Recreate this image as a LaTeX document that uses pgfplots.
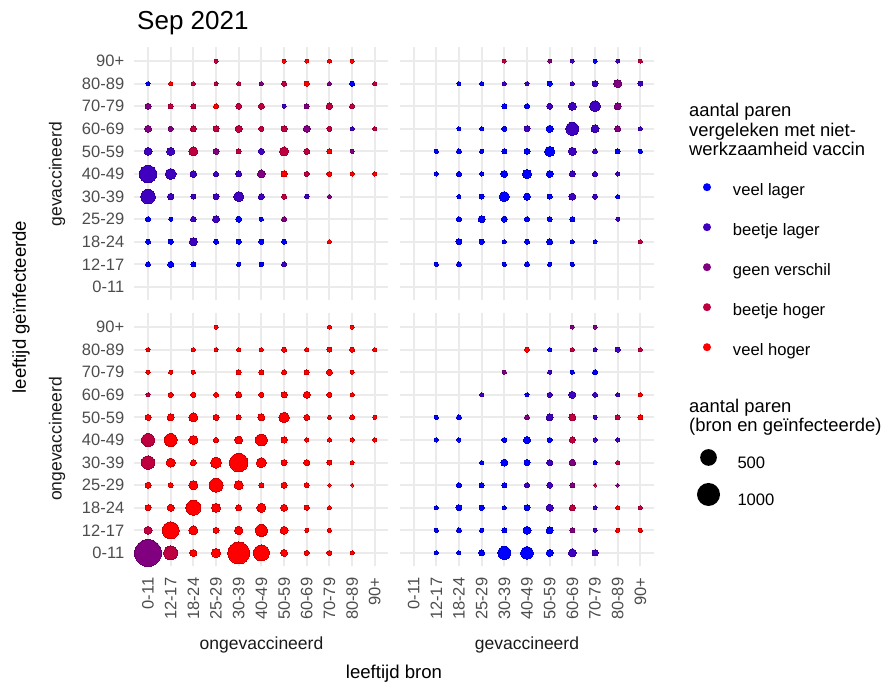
\documentclass[border=0pt]{standalone}
\usepackage{fontspec}
\setmainfont{Liberation Sans}
\usepackage{pgfplots}
\pgfplotsset{compat=1.18}
\usepackage{pgfplotstable}
\definecolor{c0}{RGB}{0,0,255}
\definecolor{c1}{RGB}{64,0,191}
\definecolor{c2}{RGB}{128,0,128}
\definecolor{c3}{RGB}{191,0,64}
\definecolor{c4}{RGB}{255,0,0}
\definecolor{gridgray}{RGB}{235,235,235}
\definecolor{tickgray}{RGB}{77,77,77}
\definecolor{stripgray}{RGB}{26,26,26}
\newcommand{\fs}[1]{\fontsize{#1}{#1}\selectfont}

% x = leeftijd bron (0=0-11 ... 10=90+), y = leeftijd geinfecteerde, n = aantal paren, c = klasse (0 veel lager ... 4 veel hoger)
\pgfplotstableread{
x y n c
3 10 14 3
6 10 14 4
7 10 14 4
8 10 14 4
9 10 14 4
0 9 14 0
1 9 14 4
2 9 14 3
3 9 14 3
4 9 14 3
5 9 14 2
6 9 27 3
7 9 27 4
8 9 14 2
9 9 27 0
10 9 14 3
0 8 44 2
1 8 27 3
2 8 27 3
3 8 27 4
4 8 44 3
5 8 44 3
6 8 14 1
7 8 27 2
8 8 55 3
9 8 27 3
0 7 65 2
1 7 27 2
2 7 44 3
3 7 44 3
4 7 65 3
5 7 27 3
6 7 44 3
7 7 65 2
8 7 27 3
9 7 14 1
10 7 14 3
0 6 91 1
1 6 91 1
2 6 122 3
3 6 44 2
4 6 27 3
5 6 44 1
6 6 122 3
7 6 44 3
8 6 27 4
9 6 14 2
0 5 540 1
1 5 195 1
2 5 55 1
3 5 27 1
4 5 44 1
5 5 91 2
6 5 44 4
7 5 27 3
8 5 27 4
9 5 14 4
10 5 14 4
0 4 370 1
1 4 55 1
2 4 27 1
3 4 44 1
4 4 156 1
5 4 44 1
6 4 27 3
7 4 20 1
8 4 14 2
0 3 27 0
1 3 14 0
2 3 35 1
3 3 65 1
4 3 44 0
5 3 14 0
6 3 27 2
0 2 27 0
1 2 27 0
2 2 91 1
3 2 27 0
4 2 27 0
5 2 27 0
6 2 27 0
8 2 14 4
0 1 27 0
1 1 44 0
2 1 27 0
4 1 14 0
5 1 20 0
6 1 27 1
}\TL

\pgfplotstableread{
x y n c
4 10 14 3
6 10 14 2
7 10 14 1
8 10 14 0
9 10 14 1
10 10 14 3
2 9 14 0
3 9 14 0
4 9 14 1
5 9 14 1
6 9 27 0
7 9 14 1
8 9 44 1
9 9 91 2
10 9 27 1
4 8 27 0
5 8 27 0
6 8 44 1
7 8 91 1
8 8 195 1
9 8 65 2
2 7 14 0
3 7 14 0
4 7 27 0
5 7 44 1
6 7 65 0
7 7 286 1
8 7 91 1
9 7 44 2
10 7 14 1
1 6 14 0
2 6 27 0
3 6 14 0
4 6 27 0
5 6 44 0
6 6 156 0
7 6 91 1
8 6 27 1
9 6 27 0
10 6 14 0
1 5 14 0
2 5 27 0
3 5 14 0
4 5 65 0
5 5 122 0
6 5 65 0
7 5 44 1
8 5 27 1
9 5 14 1
2 4 14 0
3 4 27 0
4 4 156 0
5 4 65 0
6 4 27 0
7 4 65 1
8 4 27 1
9 4 14 0
2 3 27 0
3 3 65 0
4 3 44 0
5 3 27 0
6 3 27 0
7 3 27 0
9 3 14 1
2 2 44 0
3 2 27 0
4 2 14 0
5 2 27 0
6 2 44 0
7 2 14 0
8 2 14 0
10 2 14 3
1 1 14 0
2 1 27 0
4 1 14 0
5 1 27 0
6 1 14 0
7 1 14 0
}\TR

\pgfplotstableread{
x y n c
3 10 14 4
8 10 14 4
9 10 14 4
0 9 14 4
2 9 14 4
3 9 14 4
4 9 14 4
5 9 14 4
6 9 27 4
7 9 14 4
8 9 27 4
9 9 27 4
10 9 14 4
0 8 14 4
1 8 14 4
2 8 14 4
4 8 27 4
5 8 27 4
6 8 27 4
7 8 27 4
8 8 44 4
9 8 14 4
0 7 14 3
1 7 27 4
2 7 27 4
3 7 27 4
4 7 44 4
5 7 27 4
6 7 44 4
7 7 65 4
8 7 27 4
9 7 14 4
0 6 44 4
1 6 65 4
2 6 122 4
3 6 44 4
4 6 27 4
5 6 65 4
6 6 175 4
7 6 44 4
8 6 14 4
9 6 27 4
10 6 14 4
0 5 286 3
1 5 286 4
2 5 122 4
3 5 27 4
4 5 91 4
5 5 238 4
6 5 44 4
7 5 14 4
8 5 14 4
9 5 14 4
10 5 14 4
0 4 310 3
1 4 122 4
2 4 44 4
3 4 195 4
4 4 625 4
5 4 156 4
6 4 44 4
7 4 44 4
8 4 27 4
9 4 14 4
0 3 44 4
1 3 27 4
2 3 122 4
3 3 338 4
4 3 122 4
5 3 27 4
6 3 44 4
7 3 27 4
8 3 10 4
9 3 10 4
0 2 44 4
1 2 65 4
2 2 394 4
3 2 122 4
4 2 44 4
5 2 122 4
6 2 65 4
7 2 27 4
8 2 14 4
0 1 91 3
1 1 520 4
2 1 122 4
3 1 44 4
4 1 105 4
5 1 238 4
6 1 91 4
7 1 14 4
8 1 14 4
0 0 1400 2
1 0 338 3
2 0 65 4
3 0 122 4
4 0 909 4
5 0 455 4
6 0 65 4
7 0 27 4
8 0 27 4
9 0 14 4
}\BL

\pgfplotstableread{
x y n c
7 10 14 2
8 10 14 2
5 9 27 4
6 9 14 0
7 9 14 3
8 9 14 1
9 9 27 1
10 9 14 3
4 8 14 2
6 8 14 1
7 8 14 0
8 8 27 0
3 7 14 1
5 7 14 0
6 7 27 1
7 7 65 1
8 7 27 1
9 7 14 1
10 7 14 4
1 6 14 0
2 6 27 0
5 6 27 2
6 6 65 1
7 6 65 3
8 6 14 1
9 6 27 3
10 6 27 4
1 5 14 0
2 5 14 0
4 5 27 0
5 5 65 0
6 5 27 0
7 5 44 3
8 5 14 1
9 5 14 1
3 4 14 0
4 4 65 0
5 4 44 0
6 4 44 1
7 4 55 2
8 4 14 0
9 4 14 3
2 3 27 0
3 3 27 0
4 3 27 0
5 3 27 1
6 3 44 1
7 3 27 2
8 3 10 3
9 3 10 2
1 2 14 0
2 2 44 0
3 2 27 0
4 2 14 0
5 2 44 0
6 2 65 1
7 2 44 3
8 2 14 1
9 2 14 4
10 2 14 3
1 1 14 0
2 1 27 0
3 1 14 0
4 1 27 0
5 1 91 0
6 1 65 0
7 1 27 2
8 1 14 1
9 1 14 4
10 1 14 4
1 0 14 0
2 0 14 0
3 0 44 0
4 0 286 0
5 0 262 0
6 0 65 0
7 0 91 1
8 0 44 1
}\BR

\pgfplotsset{
  panel/.style={
    scale only axis, width=254pt, height=253pt,
    xmin=-0.6, xmax=10.6, ymin=-0.6, ymax=10.6,
    xtick={0,...,10}, ytick={0,...,10},
    xticklabels={}, yticklabels={},
    axis line style={draw=none}, major tick length=0pt,
    tick style={draw=none},
    xmajorgrids, ymajorgrids,
    major grid style={line width=1.9pt, gridgray},
    colormap={vacc}{rgb255=(0,0,255) rgb255=(64,0,191) rgb255=(128,0,128) rgb255=(191,0,64) rgb255=(255,0,0)},
    point meta min=0, point meta max=4,
    ticklabel style={font=\fs{16.5}, text=tickgray, inner sep=0pt},
  },
  agey/.style={
    yticklabels={0-11,12-17,18-24,25-29,30-39,40-49,50-59,60-69,70-79,80-89,90+},
    yticklabel style={xshift=-10pt, anchor=east},
  },
  agex/.style={
    xticklabels={0-11,12-17,18-24,25-29,30-39,40-49,50-59,60-69,70-79,80-89,90+},
    xticklabel style={yshift=-11pt, rotate=90, anchor=east},
  },
  bubbles/.style={
    scatter, only marks, mark=*, point meta=\thisrow{c},
    visualization depends on={0.75+10.75*sqrt(\thisrow{n}/1000) \as \perpointmarksize},
    scatter/@pre marker code/.append style={/tikz/mark size=\perpointmarksize},
    mark options={line width=0pt}, forget plot,
  },
  dotleg/.style 2 args={legend image code/.code={\path[draw=none,fill=none] (0pt,-5pt) rectangle (34pt,12pt); \fill[#1, draw=none] (8pt,4.5pt) circle (#2);}},
  sizeleg/.style={legend image code/.code={\path[draw=none,fill=none] (0pt,-5pt) rectangle (37pt,20pt); \fill[black, draw=none] (8pt,7.5pt) circle (#1);}},
}

\begin{document}
\begin{tikzpicture}
\useasboundingbox (0pt,0pt) rectangle (888pt,690pt);

% top-left: gevaccineerd geinfecteerde, ongevaccineerde bron
\begin{axis}[panel, agey, at={(134.4pt,389.5pt)}, anchor=south west,
  legend style={draw=none, fill=none, at={(2.2228,0.4775)}, anchor=north west,
    inner sep=0pt, outer sep=0pt, row sep=20pt, column sep=0pt,
    nodes={inner sep=0pt, font=\fs{16.6}, text height=12pt, text depth=4pt}},
  legend cell align=left]
\addplot[bubbles] table {\TL};
\addlegendimage{dotleg={c0}{4pt}}\addlegendentry{veel lager}
\addlegendimage{dotleg={c1}{4pt}}\addlegendentry{beetje lager}
\addlegendimage{dotleg={c2}{4pt}}\addlegendentry{geen verschil}
\addlegendimage{dotleg={c3}{4pt}}\addlegendentry{beetje hoger}
\addlegendimage{dotleg={c4}{4pt}}\addlegendentry{veel hoger}
\end{axis}

% top-right
\begin{axis}[panel, at={(400pt,389.5pt)}, anchor=south west]
\addplot[bubbles] table {\TR};
\end{axis}

% bottom-left
\begin{axis}[panel, agey, agex, at={(134.4pt,123.5pt)}, anchor=south west]
\addplot[bubbles] table {\BL};
\end{axis}

% bottom-right
\begin{axis}[panel, agex, at={(400pt,123.5pt)}, anchor=south west,
  legend style={draw=none, fill=none, at={(1.1693,0.4803)}, anchor=north west,
    inner sep=0pt, outer sep=0pt, row sep=9pt, column sep=0pt,
    nodes={inner sep=0pt, font=\fs{16.6}, text height=12pt, text depth=4pt}},
  legend cell align=left]
\addplot[bubbles] table {\BR};
\addlegendimage{sizeleg=8.35pt}\addlegendentry{500}
\addlegendimage{sizeleg=11.5pt}\addlegendentry{1000}
\end{axis}

% texts
\node[anchor=base west, font=\fs{26}, inner sep=0pt] at (137pt,660pt) {Sep 2021};
\node[rotate=90, font=\fs{18.6}, inner sep=0pt] at (21pt,383pt) {leeftijd geïnfecteerde};
\node[rotate=90, font=\fs{17.5}, text=stripgray, inner sep=0pt] at (57pt,515.7pt) {gevaccineerd};
\node[rotate=90, font=\fs{17.5}, text=stripgray, inner sep=0pt] at (57pt,251pt) {ongevaccineerd};
\node[anchor=base, font=\fs{17.5}, text=stripgray, inner sep=0pt] at (261.5pt,40pt) {ongevaccineerd};
\node[anchor=base, font=\fs{17.5}, text=stripgray, inner sep=0pt] at (527pt,40pt) {gevaccineerd};
\node[anchor=base, font=\fs{18.6}, inner sep=0pt] at (394pt,11pt) {leeftijd bron};
\node[anchor=base west, font=\fs{18.4}, inner sep=0pt] at (689pt,573.5pt) {aantal paren};
\node[anchor=base west, font=\fs{18.4}, inner sep=0pt] at (689pt,553.7pt) {vergeleken met niet-};
\node[anchor=base west, font=\fs{18.4}, inner sep=0pt] at (689pt,534pt) {werkzaamheid vaccin};
\node[anchor=base west, font=\fs{18.4}, inner sep=0pt] at (689pt,277pt) {aantal paren};
\node[anchor=base west, font=\fs{18.4}, inner sep=0pt] at (689pt,258pt) {(bron en geïnfecteerde)};
\end{tikzpicture}
\end{document}
